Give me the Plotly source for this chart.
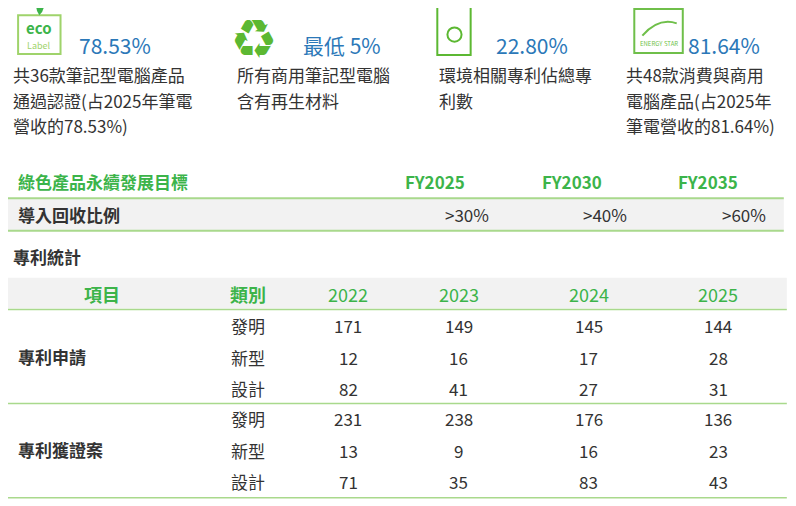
import plotly.graph_objects as go

# ---- data ----
kpi_values = ["78.53%", "最低 5%", "22.80%", "81.64%"]
kpi_texts = [
    ["共36款筆記型電腦產品", "通過認證(占2025年筆電", "營收的78.53%)"],
    ["所有商用筆記型電腦", "含有再生材料"],
    ["環境相關專利佔總專", "利數"],
    ["共48款消費與商用", "電腦產品(占2025年", "筆電營收的81.64%)"],
]
goal_title = "綠色產品永續發展目標"
goal_years = ["FY2025", "FY2030", "FY2035"]
goal_row = "導入回收比例"
goal_values = [">30%", ">40%", ">60%"]
patent_title = "專利統計"
patent_headers = ["項目", "類別", "2022", "2023", "2024", "2025"]
patent_groups = ["專利申請", "專利獲證案"]
patent_types = ["發明", "新型", "設計"]
patent_apply = [[171, 149, 145, 144], [12, 16, 17, 28], [82, 41, 27, 31]]
patent_granted = [[231, 238, 176, 136], [13, 9, 16, 23], [71, 35, 83, 43]]

GREEN = "#3cb44a"
LINE = "#a9d98c"
BLUE = "#2b78b8"
DARK = "#333333"
FONT = "Noto Sans CJK TC"

fig = go.Figure()
ann = []
shapes = []

def T(x, y, s, size=17, color=DARK, xa="left", bold=False):
    ann.append(dict(x=x, y=y, text=f"<b>{s}</b>" if bold else s, showarrow=False,
                    xanchor=xa, yanchor="middle", font=dict(size=size, color=color, family=FONT)))

# ---- KPI blocks ----
kpi_num_x = [80, 302, 493, 683]
kpi_txt_x = [15, 237, 437, 622]
for i in range(4):
    T(kpi_num_x[i], 47, kpi_values[i], size=21, color=BLUE)
    for j, line in enumerate(kpi_texts[i]):
        T(kpi_txt_x[i], 76 + j * 25, line)

# icons (simplified)
shapes.append(dict(type="rect", x0=22, y0=18, x1=64, y1=56, line=dict(color="#9fd36b", width=2)))
T(43, 30, "eco", size=15, color=GREEN, xa="center", bold=True)
T(43, 48, "Label", size=9, color="#9fd36b", xa="center")
shapes.append(dict(type="path", path="M 43 18 Q 36 9 46 3 Q 50 12 43 18 Z", fillcolor=GREEN, line=dict(width=0)))
T(256, 38, "♻", size=40, color="#5cb832", xa="center")
shapes.append(dict(type="rect", x0=437, y0=10, x1=470, y1=57, line=dict(color="#5cb832", width=2)))
shapes.append(dict(type="circle", x0=447, y0=30, x1=461, y1=44, line=dict(color="#5cb832", width=2)))
shapes.append(dict(type="rect", x0=632, y0=12, x1=680, y1=55, line=dict(color="#6fbf4a", width=2)))
T(656, 46, "ENERGY STAR", size=6, color="#6fbf4a", xa="center")
shapes.append(dict(type="path", path="M 640 38 Q 656 20 674 26", line=dict(color="#6fbf4a", width=2)))

# ---- goals table ----
T(20, 181, goal_title, color=GREEN, bold=True)
gx = [435, 570, 705]
gr = [490, 627, 764]
for k in range(3):
    T(gx[k], 181, goal_years[k], color=GREEN, xa="center", bold=True)
    T(gr[k], 213, goal_values[k], xa="right")
shapes.append(dict(type="rect", x0=10, y0=197, x1=780, y1=229, fillcolor="#f2f2f2", line=dict(width=0), layer="below"))
shapes.append(dict(type="line", x0=10, y0=197, x1=780, y1=197, line=dict(color=LINE, width=2)))
shapes.append(dict(type="line", x0=10, y0=229, x1=780, y1=229, line=dict(color=LINE, width=2)))
T(20, 213, goal_row, bold=True)

# ---- patent table ----
T(15, 254, patent_title, bold=True)
shapes.append(dict(type="rect", x0=10, y0=275, x1=783, y1=305, fillcolor="#f2f2f2", line=dict(width=0), layer="below"))
hx = [105, 250, 349, 458, 587, 715]
for k, h in enumerate(patent_headers):
    T(hx[k], 291, h, size=18, color=GREEN, xa="center", bold=(k < 2))
for y in (306, 398, 490):
    shapes.append(dict(type="line", x0=10, y0=y, x1=783, y1=y, line=dict(color=LINE, width=1.5)))
for g, (name, data) in enumerate(zip(patent_groups, [patent_apply, patent_granted])):
    base = 322 + g * 91
    T(20, base + 30, name, bold=True)
    for r, t in enumerate(patent_types):
        y = base + r * 30.5
        T(250, y, t, xa="center")
        for c, v in enumerate(data[r]):
            T(hx[c + 2], y, str(v), xa="center")

fig.update_layout(
    width=796, height=506, margin=dict(l=0, r=0, t=0, b=0),
    paper_bgcolor="white", plot_bgcolor="white",
    xaxis=dict(range=[12, 800], visible=False, fixedrange=True),
    yaxis=dict(range=[506, 11], visible=False, fixedrange=True),
    annotations=ann, shapes=shapes, showlegend=False,
)
fig.write_html("out.html")
